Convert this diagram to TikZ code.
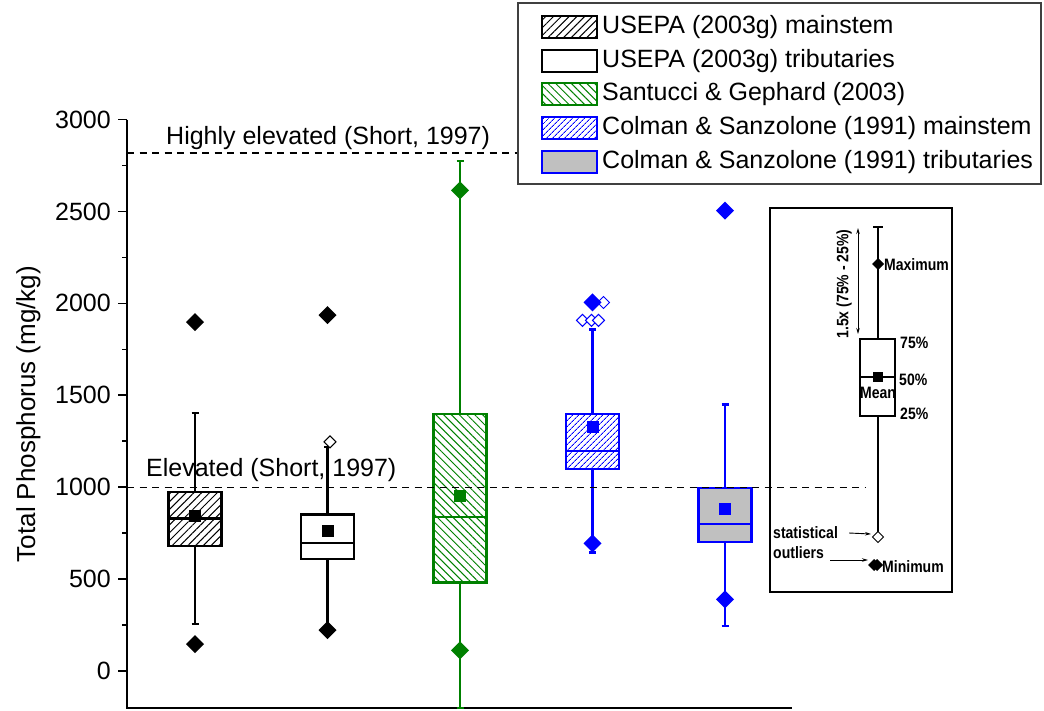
\documentclass[tikz,border=0pt]{standalone}
\usepackage{fontspec}
\setmainfont{Liberation Sans}
\newfontfamily\keyfont[FakeStretch=0.85]{Liberation Sans}
\usepackage{tikz}
\usetikzlibrary{patterns.meta,arrows.meta}

\definecolor{tpgreen}{RGB}{0,128,0}
\definecolor{tpblue}{RGB}{0,0,255}
\definecolor{tpgray}{RGB}{192,192,192}

\begin{document}
\begin{tikzpicture}[x=1pt,y=-1pt,
  big/.style={font=\fontsize{25}{30}\selectfont,inner sep=0pt},
  keytxt/.style={font=\keyfont\fontsize{16.5}{18}\selectfont\bfseries,inner sep=0pt},
  lw/.style={line width=2.2pt},
  hatchK/.style={pattern={Lines[angle=45,distance=5.5pt,line width=1pt]},pattern color=black},
  hatchG/.style={pattern={Lines[angle=-45,distance=5.5pt,line width=1pt]},pattern color=tpgreen},
  hatchB/.style={pattern={Lines[angle=45,distance=4pt,line width=0.9pt]},pattern color=tpblue},
  plainW/.style={fill=white},
  plainG/.style={fill=tpgray},
  dashln/.style={line width=1.2pt,dash pattern=on 7pt off 5.5pt},
  arr/.style={-{Stealth[length=6pt,width=3.5pt]},line width=0.9pt},
  fdia/.pic={\fill (0,9pt) -- (9pt,0) -- (0,-9pt) -- (-9pt,0) -- cycle;},
  odia/.pic={\draw[line width=1pt,fill=white] (0,6pt) -- (6pt,0) -- (0,-6pt) -- (-6pt,0) -- cycle;},
  msq/.pic={\fill (-6pt,-6pt) rectangle (6pt,6pt);},
  kdia/.pic={\fill (0,6pt) -- (6pt,0) -- (0,-6pt) -- (-6pt,0) -- cycle;},
  kodia/.pic={\draw[line width=1pt,fill=white] (0,5.5pt) -- (5.5pt,0) -- (0,-5.5pt) -- (-5.5pt,0) -- cycle;}]
  \useasboundingbox (0,0) rectangle (1044,710);

  % key
  \draw[line width=1.3pt] (770,208) rectangle (952,592);
  \draw[line width=1.3pt] (873,227) -- (883,227) (878,227) -- (878,537);
  \draw[line width=1.3pt,fill=white] (860,339) rectangle (895,416);
  \draw[line width=1.3pt] (860,377) -- (895,377);
  \fill (873,372) rectangle (883,382);
  \pic at (878,264) {kdia};
  \pic at (874,565) {kdia}; \pic at (877,565) {kdia};
  \coordinate (kod) at (878,537);
  \pic at (kod) {kodia};
  \node[keytxt,anchor=west] (kmax) at (884,265) {Maximum};
  \node[keytxt,anchor=west] (k75) at (900,343) {75\%};
  \node[keytxt,anchor=west] (k50) at (899,380) {50\%};
  \node[keytxt,anchor=west] (k25) at (900,414) {25\%};
  \node[keytxt] (kmean) at (878,393) {Mean};
  \node[keytxt,anchor=west] (kmin) at (882,567) {Minimum};
  \node[keytxt,anchor=west] (kstat) at (773,533) {statistical};
  \node[keytxt,anchor=west] (kout) at (773,553) {outliers};
  \node[keytxt,rotate=90] (krng) at (844,284) {1.5x (75\% - 25\%)};
  \coordinate (rtop) at (858,228); \coordinate (rbot) at (858,334);
  \draw[line width=0.9pt,{Stealth[length=6pt,width=3.5pt]}-{Stealth[length=6pt,width=3.5pt]}] (rtop) -- (rbot);
  \coordinate (ast) at (871,534); \coordinate (aout) at (868,560);
  \draw[arr] (kstat.east) ++(11pt,0) -- (ast);
  \draw[arr] (kout.east |- aout) ++(6pt,0) -- (aout);

  \begin{scope}[shift={(0,671)},y=0.1838pt]
    \draw[lw] (127,3000) -- (127,-201) -- (792,-201);
    \foreach \v in {0,500,...,3000}{
      \draw[line width=1.6pt] (127,\v) -- ++(-9pt,0);
      \node[big,anchor=east] (tk\v) at (111,\v) {\v};}
    \foreach \v in {250,750,...,2750} \draw[line width=1.6pt] (127,\v) -- ++(-5pt,0);
    % boxes: x / low / 25% / median / 75% / high / mean
    \foreach \cx/\lo/\qa/\md/\qb/\hi/\mn/\col/\fil in
      {195/254/680/830/973/1403/846/black/hatchK,
       327.5/223/610/695/852/1217/762/black/plainW,
       460/-201/482/837/1400/2776/952/tpgreen/hatchG,
       592.5/645/1100/1198/1400/1858/1326/tpblue/hatchB,
       725/245/700/800/997/1450/881/tpblue/plainG}{
      \draw[lw,\col] (\cx,\lo) -- (\cx,\qa) (\cx,\qb) -- (\cx,\hi)
        (\cx-3.5,\lo) -- (\cx+3.5,\lo) (\cx-3.5,\hi) -- (\cx+3.5,\hi);
      \draw[lw,\col,\fil] (\cx-26.5,\qa) rectangle (\cx+26.5,\qb);
      \draw[lw,\col] (\cx-26.5,\md) -- (\cx+26.5,\md);
      \pic[\col] at (\cx,\mn) {msq};}
    \foreach \cx/\v in {582.5/1908,591.5/1908,598.5/1908,603.5/2005}
      \pic[tpblue] at (\cx,\v) {odia};
    \pic[black] at (330,1247) {odia};
    \foreach \cx/\v/\col in {195/1898/black,195/146/black,327.5/1936/black,327.5/223/black,
      460/2615/tpgreen,460/112/tpgreen,592.5/2005/tpblue,592.5/695/tpblue,
      725/2505/tpblue,725/390/tpblue}
      \pic[\col] at (\cx,\v) {fdia};
    \draw[dashln] (127,2818) -- (518,2818);
    \draw[dashln] (127,1000) -- (865,1000);
  \end{scope}

  \node[big,anchor=base west] (hiel) at (166,144) {Highly elevated (Short, 1997)};
  \node[big,anchor=base west] (elev) at (146,476) {Elevated (Short, 1997)};
  \node[font=\fontsize{26}{30}\selectfont,inner sep=0pt,rotate=90,anchor=base] (ylab) at (35,414) {Total Phosphorus (mg/kg)};

  % legend
  \draw[line width=1.5pt,draw=black!75,fill=white] (518,3) rectangle (1041,184);
  \foreach \i/\yc/\col/\fil/\txt in {1/27/black/hatchK/USEPA (2003g) mainstem,
    2/61/black/plainW/USEPA (2003g) tributaries,
    3/94/tpgreen/hatchG/Santucci \& Gephard (2003),
    4/128/tpblue/hatchB/Colman \& Sanzolone (1991) mainstem,
    5/162/tpblue/plainG/Colman \& Sanzolone (1991) tributaries}{
    \draw[line width=1.5pt,\col,\fil] (542,\yc-11) rectangle (597,\yc+11);
    \node[big,anchor=west] (lg\i) at (602,\yc) {\txt};}
\end{tikzpicture}
\end{document}
